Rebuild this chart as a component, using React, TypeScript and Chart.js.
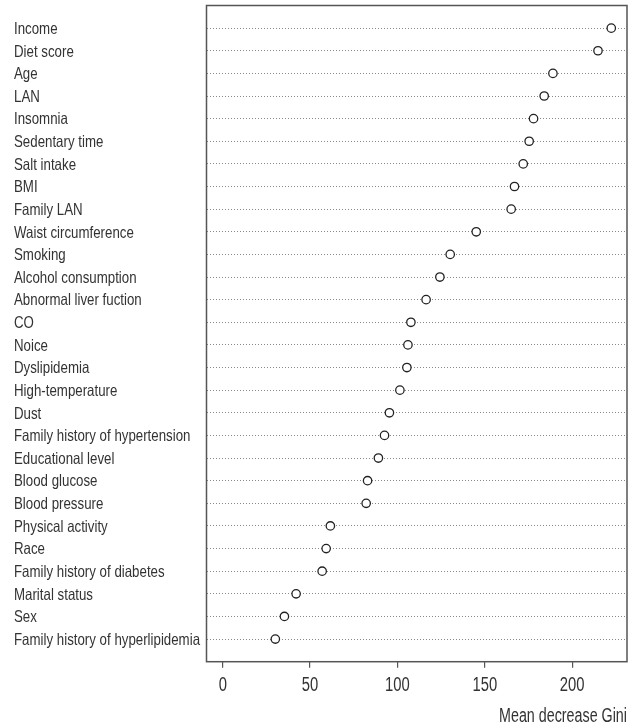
import React, { useEffect, useRef } from "react";
import { Chart, registerables } from "chart.js";

Chart.register(...registerables);

// Variables ranked by importance (top to bottom)
const variables: string[] = [
  "Income",
  "Diet score",
  "Age",
  "LAN",
  "Insomnia",
  "Sedentary time",
  "Salt intake",
  "BMI",
  "Family LAN",
  "Waist circumference",
  "Smoking",
  "Alcohol consumption",
  "Abnormal liver fuction",
  "CO",
  "Noice",
  "Dyslipidemia",
  "High-temperature",
  "Dust",
  "Family history of hypertension",
  "Educational level",
  "Blood glucose",
  "Blood pressure",
  "Physical activity",
  "Race",
  "Family history of diabetes",
  "Marital status",
  "Sex",
  "Family history of hyperlipidemia",
];

// Mean decrease in Gini for each variable
const giniValues: number[] = [
  222.4, 214.8, 189.0, 184.0, 177.9, 175.4, 172.0, 167.0, 165.1, 145.1,
  130.2, 124.3, 116.4, 107.7, 106.0, 105.4, 101.4, 95.4, 92.6, 89.1,
  82.9, 82.1, 61.6, 59.2, 56.9, 42.0, 35.3, 30.1,
];

const xTicks: number[] = [0, 50, 100, 150, 200];
const xTitle = "Mean decrease Gini";

const FONT = "'Liberation Sans', Arial, sans-serif";
const TEXT_COLOR = "#333";

// Narrow text: the sans face is squeezed horizontally to a condensed look
function drawNarrowText(
  ctx: CanvasRenderingContext2D,
  text: string,
  x: number,
  y: number,
  align: CanvasTextAlign,
  size: number,
  squeeze: number
) {
  ctx.save();
  ctx.font = `${size}px ${FONT}`;
  ctx.fillStyle = TEXT_COLOR;
  ctx.textAlign = align;
  ctx.textBaseline = "alphabetic";
  ctx.translate(x, y);
  ctx.scale(squeeze, 1);
  ctx.fillText(text, 0, 0);
  ctx.restore();
}

// Category labels, x tick labels and x title, placed from the chart's scales
const labelPlugin = {
  id: "narrowLabels",
  afterDraw(chart: any) {
    const { ctx, chartArea, scales } = chart;
    const yScale = scales.y;
    const xScale = scales.x;
    yScale.ticks.forEach((t: any) => {
      const label = variables[t.value - 1];
      if (label === undefined) return;
      drawNarrowText(ctx, label, 14, yScale.getPixelForValue(t.value) + 5.8, "left", 16.5, 0.805);
    });
    xScale.ticks.forEach((t: any) => {
      drawNarrowText(ctx, String(t.value), xScale.getPixelForValue(t.value), chartArea.bottom + 29.3, "center", 20, 0.74);
    });
    drawNarrowText(ctx, xTitle, chartArea.right, chartArea.bottom + 60, "right", 20, 0.715);
  },
};

// Draws the frame around the plotting region
const framePlugin = {
  id: "frame",
  afterDraw(chart: any) {
    const { ctx, chartArea } = chart;
    ctx.save();
    ctx.strokeStyle = "#555";
    ctx.lineWidth = 1.5;
    ctx.strokeRect(
      chartArea.left,
      chartArea.top,
      chartArea.right - chartArea.left,
      chartArea.bottom - chartArea.top
    );
    ctx.restore();
  },
};

export default function App() {
  const canvasRef = useRef<HTMLCanvasElement | null>(null);

  useEffect(() => {
    document.body.style.margin = "0";
    const canvas = canvasRef.current;
    if (!canvas) return;

    const points = giniValues.map((v, i) => ({ x: v, y: i + 1 }));

    const chart = new Chart(canvas, {
      type: "scatter",
      data: {
        datasets: [
          {
            data: points,
            pointStyle: "circle",
            pointRadius: 4.2,
            pointBorderWidth: 1.3,
            pointBorderColor: "#222",
            pointBackgroundColor: "#fff",
            showLine: false,
          },
        ],
      },
      options: {
        responsive: false,
        animation: false,
        devicePixelRatio: 1,
        layout: { padding: { left: 14, top: 5, right: 13, bottom: 0 } },
        plugins: {
          legend: { display: false },
          tooltip: { enabled: false },
        },
        scales: {
          x: {
            type: "linear",
            position: "bottom",
            min: -9.3,
            max: 231.4,
            afterBuildTicks: (axis: any) => {
              axis.ticks = xTicks.map((v) => ({ value: v }));
            },
            afterFit: (axis: any) => {
              axis.height = 66.3;
            },
            border: { display: false },
            grid: {
              drawOnChartArea: false,
              drawTicks: true,
              tickLength: 6,
              color: "#555",
              lineWidth: 1.2,
            },
            ticks: { display: false },
            title: { display: false, text: xTitle },
          },
          y: {
            type: "linear",
            reverse: true,
            min: 0,
            max: variables.length + 1,
            afterBuildTicks: (axis: any) => {
              axis.ticks = variables.map((_, i) => ({ value: i + 1 }));
            },
            afterFit: (axis: any) => {
              axis.width = 192.5;
            },
            border: { display: false, dash: [1, 2] },
            grid: {
              drawTicks: false,
              color: "#888",
              lineWidth: 1,
            },
            ticks: { display: false },
          },
        },
      },
      plugins: [framePlugin, labelPlugin],
    });

    return () => chart.destroy();
  }, []);

  return (
    <div style={{ width: 640, height: 728 }}>
      <canvas ref={canvasRef} width={640} height={728} style={{ display: "block" }} />
    </div>
  );
}
